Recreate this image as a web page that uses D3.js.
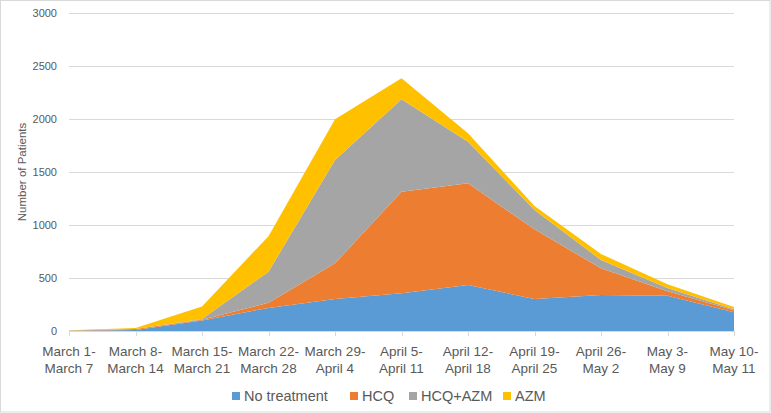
<!DOCTYPE html>
<html>
<head>
<meta charset="utf-8">
<script src="https://cdn.jsdelivr.net/npm/d3@7"></script>
<style>
  html, body { margin: 0; padding: 0; background: #fff; }
  svg { display: block; font-family: "Liberation Sans", Arial, sans-serif; }
</style>
</head>
<body>
<svg id="chart" width="771" height="413"></svg>
<script>
const categories = [
  ["March 1-", "March 7"],
  ["March 8-", "March 14"],
  ["March 15-", "March 21"],
  ["March 22-", "March 28"],
  ["March 29-", "April 4"],
  ["April 5-", "April 11"],
  ["April 12-", "April 18"],
  ["April 19-", "April 25"],
  ["April 26-", "May 2"],
  ["May 3-", "May 9"],
  ["May 10-", "May 11"]
];
const seriesNames = ["No treatment", "HCQ", "HCQ+AZM", "AZM"];
const noTreatment = [2, 10, 100, 218, 302, 355, 434, 302, 340, 333, 177];
const hcq         = [1, 8, 5, 49, 337, 959, 959, 657, 251, 42, 18];
const hcqAzm      = [1, 2, 8, 293, 974, 872, 393, 183, 79, 31, 10];
const azm         = [2, 8, 119, 335, 384, 198, 79, 37, 56, 35, 22];
const yTicks = [0, 500, 1000, 1500, 2000, 2500, 3000];
const colors = ["#5B9BD5", "#ED7D31", "#A5A5A5", "#FFC000"];

const svg = d3.select("#chart");
const W = 771, H = 413;
const plot = { left: 69, right: 734, top: 13, bottom: 331 };

// outer border
svg.append("rect").attr("x", 0.5).attr("y", 0.5).attr("width", W - 1.5).attr("height", H - 1.5)
  .attr("fill", "#fff").attr("stroke", "#d9d9d9");

const x = d3.scalePoint().domain(d3.range(categories.length)).range([plot.left, plot.right]);
const y = d3.scaleLinear().domain([0, 3000]).range([plot.bottom, plot.top]);

// gridlines
svg.append("g").selectAll("line").data(yTicks.filter(d => d > 0)).join("line")
  .attr("x1", plot.left).attr("x2", plot.right)
  .attr("y1", d => Math.round(y(d)) + 0.5).attr("y2", d => Math.round(y(d)) + 0.5)
  .attr("stroke", "#d9d9d9").attr("stroke-width", 1);

// y tick labels
svg.append("g").selectAll("text").data(yTicks).join("text")
  .attr("x", 57).attr("y", d => y(d)).attr("dy", "0.35em")
  .attr("text-anchor", "end").attr("font-size", "11px").attr("fill", "#595959")
  .text(d => d);

// y axis title
svg.append("text")
  .attr("transform", `translate(22,${(plot.top + plot.bottom) / 2}) rotate(-90)`)
  .attr("text-anchor", "middle").attr("dy", "0.35em")
  .attr("font-size", "11.5px").attr("fill", "#595959")
  .text("Number of Patients");

// stacked data
const rows = categories.map((c, i) => ({
  i,
  "No treatment": noTreatment[i],
  "HCQ": hcq[i],
  "HCQ+AZM": hcqAzm[i],
  "AZM": azm[i]
}));
const stacked = d3.stack().keys(seriesNames)(rows);
const area = d3.area()
  .x(d => x(d.data.i))
  .y0(d => y(d[0]))
  .y1(d => y(d[1]));

svg.append("g").selectAll("path").data(stacked).join("path")
  .attr("d", area)
  .attr("fill", (d, i) => colors[i]);

// x axis line and ticks
svg.append("line").attr("x1", plot.left).attr("x2", plot.right)
  .attr("y1", plot.bottom + 0.5).attr("y2", plot.bottom + 0.5)
  .attr("stroke", "#d9d9d9");
svg.append("g").selectAll("line").data(d3.range(categories.length)).join("line")
  .attr("x1", d => Math.round(x(d)) + 0.5).attr("x2", d => Math.round(x(d)) + 0.5)
  .attr("y1", plot.bottom).attr("y2", plot.bottom + 5)
  .attr("stroke", "#d9d9d9");

// x labels
const xl = svg.append("g").selectAll("text").data(categories).join("text")
  .attr("x", (d, i) => x(i)).attr("y", 351).attr("dy", "0.35em")
  .attr("text-anchor", "middle").attr("font-size", "13.5px").attr("fill", "#595959");
xl.append("tspan").attr("x", (d, i) => x(i)).text(d => d[0]);
xl.append("tspan").attr("x", (d, i) => x(i)).attr("dy", "17.5px").text(d => d[1]);

// legend
const legendX = [232, 350, 409, 503];
const lg = svg.append("g").selectAll("g").data(seriesNames).join("g")
  .attr("transform", (d, i) => `translate(${legendX[i]},396)`);
lg.append("rect").attr("x", 0).attr("y", -4).attr("width", 8).attr("height", 8)
  .attr("fill", (d, i) => colors[i]);
lg.append("text").attr("x", 12).attr("y", 0).attr("dy", "0.35em")
  .attr("font-size", "14.5px").attr("fill", "#595959").text(d => d);
</script>
</body>
</html>
